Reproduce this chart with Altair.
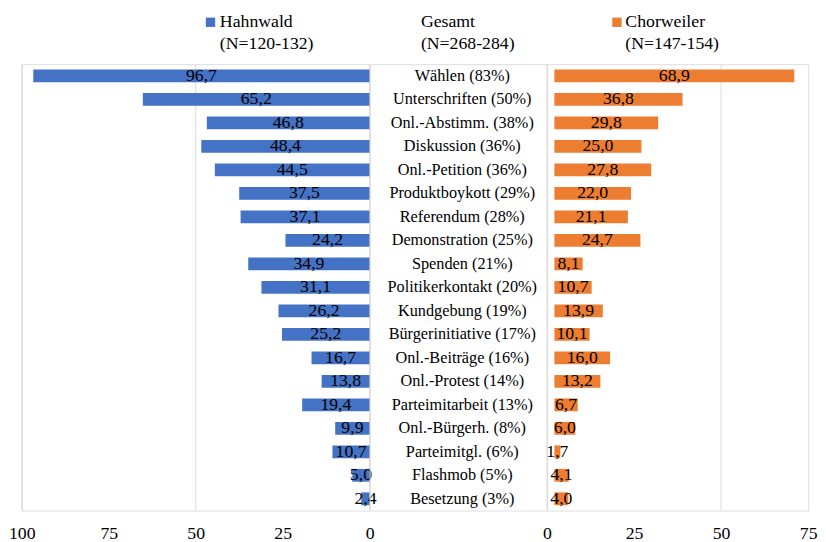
import altair as alt
import pandas as pd

categories = [
    "Wählen (83%)", "Unterschriften (50%)", "Onl.-Abstimm. (38%)", "Diskussion (36%)",
    "Onl.-Petition (36%)", "Produktboykott (29%)", "Referendum (28%)", "Demonstration (25%)",
    "Spenden (21%)", "Politikerkontakt (20%)", "Kundgebung (19%)", "Bürgerinitiative (17%)",
    "Onl.-Beiträge (16%)", "Onl.-Protest (14%)", "Parteimitarbeit (13%)", "Onl.-Bürgerh. (8%)",
    "Parteimitgl. (6%)", "Flashmob (5%)", "Besetzung (3%)",
]
hahnwald = [96.7, 65.2, 46.8, 48.4, 44.5, 37.5, 37.1, 24.2, 34.9, 31.1, 26.2, 25.2,
            16.7, 13.8, 19.4, 9.9, 10.7, 5.0, 2.4]
chorweiler = [68.9, 36.8, 29.8, 25.0, 27.8, 22.0, 21.1, 24.7, 8.1, 10.7, 13.9, 10.1,
              16.0, 13.2, 6.7, 6.0, 1.7, 4.1, 4.0]
legend_names = ["Hahnwald", "Gesamt", "Chorweiler"]
legend_ns = ["(N=120-132)", "(N=268-284)", "(N=147-154)"]
left_ticks = [0, 25, 50, 75, 100]
right_ticks = [0, 25, 50, 75]
left_grid = [0, 50, 100]
right_grid = [0, 50]

BLUE = "#4472C4"
ORANGE = "#ED7D31"
GRID = "#D9D9D9"
FONT = "'Liberation Serif', 'Times New Roman', Times, serif"
H = 453


def fmt(v):
    return f"{v:.1f}".replace(".", ",")


df = pd.DataFrame({"cat": categories, "h": hahnwald, "c": chorweiler})
df["h_lbl"] = [fmt(v) for v in hahnwald]
df["c_lbl"] = [fmt(v) for v in chorweiler]

y_enc = alt.Y("cat:N", sort=categories, axis=None,
              scale=alt.Scale(paddingInner=0, paddingOuter=0))


def legend_layers(i, text_x, square_x=None, color=None):
    ldf = pd.DataFrame({"name": [legend_names[i]], "n": [legend_ns[i]]})
    base = alt.Chart(ldf)
    t1 = base.mark_text(align="left", baseline="middle", font=FONT, fontSize=18,
                        color="black").encode(
        x=alt.value(text_x), y=alt.value(-43), text="name:N")
    t2 = base.mark_text(align="left", baseline="middle", font=FONT, fontSize=18,
                        color="black").encode(
        x=alt.value(text_x), y=alt.value(-20.5), text="n:N")
    layers = [t1, t2]
    if square_x is not None:
        sq = base.mark_square(size=90, color=color, opacity=1).encode(
            x=alt.value(square_x), y=alt.value(-42.5))
        layers.append(sq)
    return layers


# ---- left panel (Hahnwald)
left_x = alt.Scale(domain=[0, 100], reverse=True, nice=False)
left_axis = alt.Axis(values=left_ticks, grid=False, domain=False, ticks=False,
                     labelFont=FONT, labelFontSize=18, labelColor="black",
                     labelPadding=14, title=None, labelFlush=False, labelOverlap=False)

grid_l = alt.Chart(pd.DataFrame({"g": left_grid})).mark_rule(
    color=GRID, strokeWidth=1).encode(x=alt.X("g:Q", scale=left_x, axis=left_axis))
bars_l = alt.Chart(df).mark_bar(size=13, color=BLUE).encode(
    x=alt.X("h:Q", scale=left_x, axis=left_axis), y=y_enc)
text_l = alt.Chart(df).transform_calculate(mid="datum.h / 2").mark_text(
    font=FONT, fontSize=18, color="black", baseline="middle").encode(
    x=alt.X("mid:Q", scale=left_x, axis=left_axis), y=y_enc, text="h_lbl:N")

left = alt.layer(grid_l, bars_l, text_l,
                 *legend_layers(0, 201, 191.5, BLUE)).properties(width=353, height=H)

# ---- middle panel (Gesamt, category labels)
mid_text = alt.Chart(df).mark_text(font=FONT, fontSize=16.5, color="black",
                                   align="center", baseline="middle").encode(
    x=alt.value(94), y=y_enc, text="cat:N")
middle = alt.layer(mid_text, *legend_layers(1, 52)).properties(width=180, height=H)

# ---- right panel (Chorweiler)
right_x = alt.Scale(domain=[0, 75], nice=False)
right_axis = alt.Axis(values=right_ticks, grid=False, domain=False, ticks=False,
                      labelFont=FONT, labelFontSize=18, labelColor="black",
                      labelPadding=14, title=None, labelFlush=False, labelOverlap=False)
grid_r = alt.Chart(pd.DataFrame({"g": right_grid})).mark_rule(
    color=GRID, strokeWidth=1).encode(x=alt.X("g:Q", scale=right_x, axis=right_axis))
bars_r = alt.Chart(df).mark_bar(size=13, color=ORANGE, xOffset=7.5).encode(
    x=alt.X("c:Q", scale=right_x, axis=right_axis), y=y_enc)
text_r = alt.Chart(df).transform_calculate(mid="datum.c / 2").mark_text(
    font=FONT, fontSize=18, color="black", baseline="middle", dx=7.5).encode(
    x=alt.X("mid:Q", scale=right_x, axis=right_axis), y=y_enc, text="c_lbl:N")
right = alt.layer(grid_r, bars_r, text_r,
                  *legend_layers(2, 79.5, 71, ORANGE)).properties(width=265, height=H)

chart = alt.hconcat(left, middle, right, spacing=0, bounds="flush").properties(
    padding={"left": 0, "right": 0, "top": 0, "bottom": 0}
).configure_view(strokeWidth=0).configure(background="white")

chart.save("out.html", embed_options={"renderer": "svg", "actions": False})
